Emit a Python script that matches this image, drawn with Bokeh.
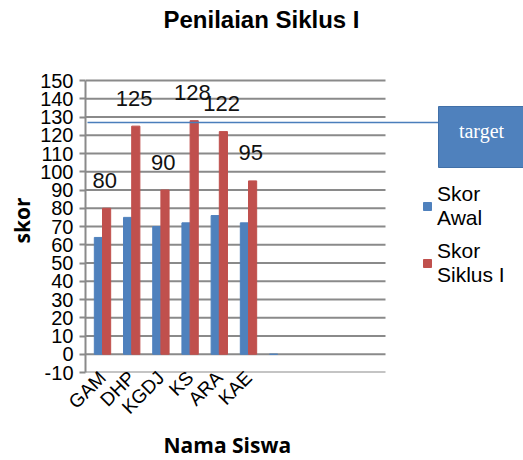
import math
from bokeh.plotting import figure
from bokeh.models import (ColumnDataSource, FixedTicker, Legend, LegendItem,
                          Range1d, Title)
from bokeh.core.properties import value
from bokeh.embed import file_html
from bokeh.resources import INLINE

# ---------------- data ----------------
NAMES = ["GAM", "DHP", "KGDJ", "KS", "ARA", "KAE"]
SKOR_AWAL = [64, 75, 70, 72, 76, 72, 0]
SKOR_SIKLUS = [80, 125, 90, 128, 122, 95]
TARGET = 127
Y_TICKS = list(range(-10, 151, 10))

BLUE = "#4f81bd"
RED = "#c0504d"
GRID = "#8a8a8a"

# ---------------- geometry (page px) ----------------
W, H = 523, 460
FRAME_L, FRAME_R, FRAME_T, FRAME_B = 85, 523, 0, 372
AXIS_TOP_PX = 80               # page y of the top tick (150)
KX = 29.2                      # px per category
FIRST_CENTER = 102             # page x of first category centre
X_START = -(FIRST_CENTER - FRAME_L) / KX
X_END = X_START + (FRAME_R - FRAME_L) / KX
Y_MIN, Y_MAX = Y_TICKS[0], Y_TICKS[-1]
KY = (FRAME_B - AXIS_TOP_PX) / (Y_MAX - Y_MIN)
Y_TOP = Y_MAX + (AXIS_TOP_PX - FRAME_T) / KY


def xd(px):
    return X_START + (px - FRAME_L) / KX


def yd(py):
    return Y_MIN + (FRAME_B - py) / KY


p = figure(width=W, height=H, output_backend="svg", toolbar_location=None,
           title=None,
           x_range=Range1d(X_START, X_END), y_range=Range1d(Y_MIN, Y_TOP),
           min_border_left=FRAME_L, min_border_right=W - FRAME_R,
           min_border_top=FRAME_T, min_border_bottom=H - FRAME_B)
p.outline_line_color = None
p.xgrid.visible = False
p.ygrid.visible = False
p.background_fill_color = "white"
p.border_fill_color = "white"

# chart title
p.text(x=[xd(261)], y=[yd(19)], text=["Penilaian Siklus I"], text_align="center",
       text_baseline="middle", text_font=value("Liberation Sans"),
       text_font_style="bold", text_font_size="24px", text_color="black")

# gridlines (back wall)
p.segment(x0=[X_START] * len(Y_TICKS), x1=[xd(385)] * len(Y_TICKS),
          y0=Y_TICKS, y1=Y_TICKS, line_color=GRID, line_width=2)

# bars
xa = [i - 0.14 for i in range(len(SKOR_AWAL))]
xs = [i + 0.14 for i in range(len(SKOR_SIKLUS))]
r_awal = p.vbar(x=xa, top=SKOR_AWAL, bottom=0, width=0.28,
                fill_color=BLUE, line_color=BLUE, line_width=1)
r_sik = p.vbar(x=xs, top=SKOR_SIKLUS, bottom=0, width=0.28,
               fill_color=RED, line_color=RED, line_width=1)

# data labels
lab_src = ColumnDataSource(dict(
    x=[i + 0.08 for i in range(len(SKOR_SIKLUS))],
    y=[v + 28 / KY for v in SKOR_SIKLUS],
    t=[str(v) for v in SKOR_SIKLUS]))
p.text(x="x", y="y", text="t", source=lab_src, text_align="center",
       text_baseline="middle", text_font=value("Liberation Sans"),
       text_font_size="22px", text_color="#111111")

# target line and box
p.line(x=[xd(87), xd(438)], y=[TARGET, TARGET], line_color="#4a7ebb", line_width=1.5)
p.quad(left=[xd(438)], right=[xd(540)], top=[yd(106)], bottom=[yd(167)],
       fill_color=BLUE, line_color="#4170a8", line_width=1)
p.text(x=[xd(481)], y=[yd(130)], text=["target"], text_align="center",
       text_baseline="middle", text_font=value("Liberation Serif"),
       text_font_size="20px", text_color="white")

# axes
p.yaxis.ticker = FixedTicker(ticks=Y_TICKS)
p.yaxis.bounds = (Y_MIN, Y_MAX)
p.yaxis.major_label_overrides = {t: str(t) for t in Y_TICKS}
p.yaxis.minor_tick_line_color = None
p.yaxis.axis_line_color = GRID
p.yaxis.axis_line_width = 2
p.yaxis.major_tick_line_color = GRID
p.yaxis.major_tick_line_width = 2
p.yaxis.major_tick_out = 6
p.yaxis.major_tick_in = 0
p.yaxis.major_label_standoff = 6
p.yaxis.major_label_text_font = "Liberation Sans"
p.yaxis.major_label_text_font_size = "20px"
p.yaxis.major_label_text_color = "black"

p.xaxis.ticker = FixedTicker(ticks=list(range(len(NAMES))))
p.xaxis.major_label_overrides = {i: n for i, n in enumerate(NAMES)}
p.xaxis.major_label_orientation = math.pi / 4
p.xaxis.axis_line_color = None
p.xaxis.major_tick_line_color = None
p.xaxis.minor_tick_line_color = None
p.xaxis.major_tick_out = 0
p.xaxis.major_label_standoff = 2
p.xaxis.major_label_text_font = "Liberation Sans"
p.xaxis.major_label_text_font_size = "19px"
p.xaxis.major_label_text_color = "black"

# axis titles
p.add_layout(Title(text="Nama Siswa", align="left", offset=163 - FRAME_L,
                   standoff=0, text_font="Open Sans", text_font_style="bold",
                   text_font_size="21px", text_color="black"), "below")
p.add_layout(Title(text="skor", align="left", offset=FRAME_B - 243, standoff=4,
                   text_font="Open Sans", text_font_style="bold",
                   text_font_size="21px", text_color="black"), "left")

# legend
legend = Legend(items=[LegendItem(label="Skor\nAwal", renderers=[r_awal]),
                       LegendItem(label="Skor\nSiklus I", renderers=[r_sik])],
                location=(422 - FRAME_L, FRAME_B - 287),
                glyph_width=10, glyph_height=10, label_standoff=5,
                label_text_font="Liberation Sans", label_text_font_size="21px",
                label_text_color="black", spacing=9, padding=0, margin=0,
                border_line_color=None, background_fill_alpha=0)
p.add_layout(legend)

open("out.html", "w").write(file_html(p, INLINE))
